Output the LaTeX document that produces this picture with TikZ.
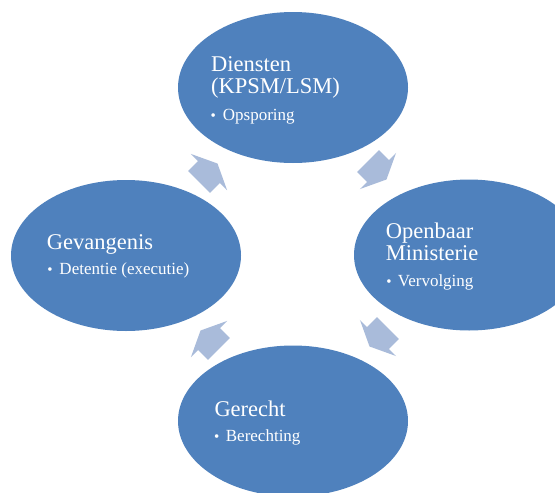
\documentclass[tikz,border=0pt]{standalone}
\usepackage{fontspec}
\setmainfont{Liberation Serif}
\usetikzlibrary{shapes.geometric}
\definecolor{ellblue}{HTML}{4F81BD}
\definecolor{arrblue}{HTML}{A9BBDA}
\tikzset{
  ell/.style={ellipse, fill=ellblue, draw=none, minimum width=230pt, minimum height=151pt, inner sep=0pt},
  head/.style={text=white, anchor=base west, inner sep=0pt, font=\fontsize{22.5}{26}\selectfont},
  item/.style={text=white, anchor=base west, inner sep=0pt, font=\fontsize{17}{20}\selectfont},
  bul/.style={text=white, anchor=base, inner sep=0pt, font=\fontsize{15}{18}\selectfont},
  blockarrow/.style={fill=arrblue, draw=none}
}
\newcommand{\cyclearrow}[2]{%
  \begin{scope}[shift={#1}, rotate=#2]
    \fill[blockarrow] (-14,-15.5) -- (0,-15.5) -- (0,-25.5) -- (12,0) -- (0,25.5) -- (0,15.5) -- (-14,15.5) -- cycle;
  \end{scope}}
\begin{document}
\begin{tikzpicture}[x=1pt,y=-1pt]
\fill[white] (0,0) rectangle (555,493);
\useasboundingbox (0,0) rectangle (555,493);
\clip (0,0) rectangle (555,493);
% ellipses
\node[ell] (dien) at (293,87.5) {};
\node[ell] (om) at (469,255) {};
\node[ell] (ger) at (293,421) {};
\node[ell] (gev) at (126,255.5) {};
% block arrows (clockwise cycle)
\coordinate (a1) at (209,172);
\coordinate (a2) at (378,171);
\coordinate (a3) at (378,338);
\coordinate (a4) at (209,339);
\cyclearrow{(a1)}{45}
\cyclearrow{(a2)}{-45}
\cyclearrow{(a3)}{-135}
\cyclearrow{(a4)}{135}
% texts: Diensten
\node[head] (dien1) at (211,71.7) {Diensten};
\node[head] (dien2) at (211,93.3) {(KPSM/LSM)};
\node[bul] (dienb) at (213.3,120.7) {\textbullet};
\node[item] (dien3) at (222.7,120.7) {Opsporing};
% Openbaar Ministerie
\node[head] (om1) at (385.7,238.3) {Openbaar};
\node[head] (om2) at (385.7,260) {Ministerie};
\node[bul] (omb) at (389,286) {\textbullet};
\node[item] (om3) at (397.7,286) {Vervolging};
% Gevangenis
\node[head] (gev1) at (46.7,249.3) {Gevangenis};
\node[bul] (gevb) at (50,274.3) {\textbullet};
\node[item] (gev2) at (59.3,274.3) {Detentie (executie)};
% Gerecht
\node[head] (ger1) at (214.3,416) {Gerecht};
\node[bul] (gerb) at (216.7,441.7) {\textbullet};
\node[item] (ger2) at (225.7,441.7) {Berechting};
\end{tikzpicture}
\end{document}
